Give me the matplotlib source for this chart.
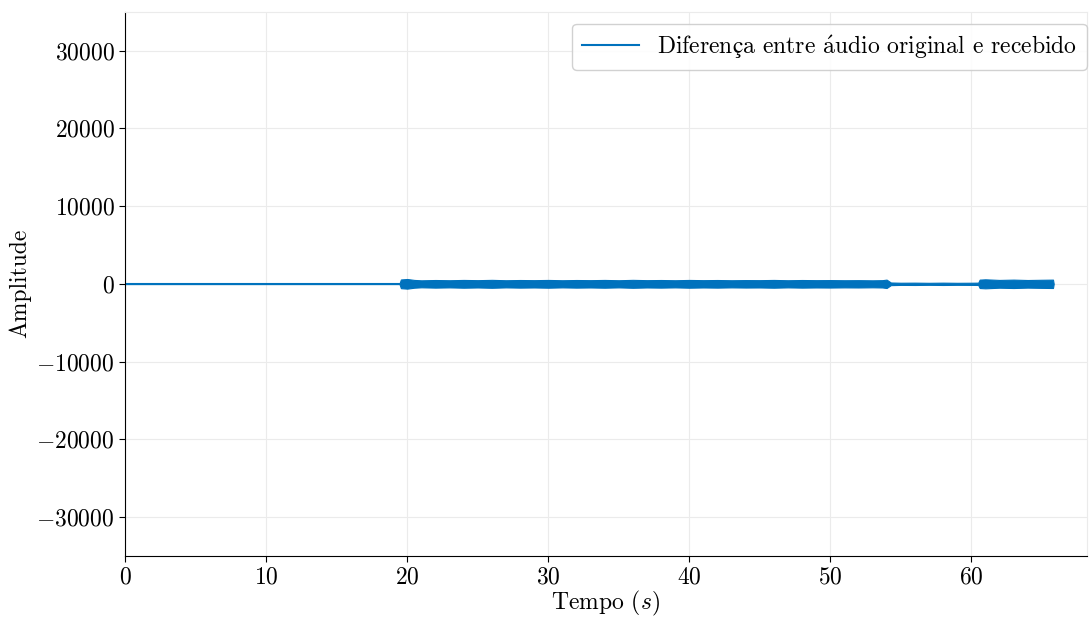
import matplotlib
matplotlib.use("Agg")
import matplotlib.pyplot as plt

# Envelope of the difference signal (time in s, amplitude)
env_t = [0.0, 19.45, 19.55, 20.0, 20.5, 21.0, 22.0, 23.0, 24.0, 25.0, 26.0, 27.0, 28.0,
         29.0, 30.0, 31.0, 32.0, 33.0, 34.0, 35.0, 36.0, 37.0, 38.0, 39.0, 40.0,
         41.0, 42.0, 43.0, 44.0, 45.0, 46.0, 47.0, 48.0, 49.0, 50.0, 51.0, 52.0,
         53.0, 53.7, 54.0, 54.3, 55.0, 56.0, 57.0, 58.0, 59.0, 60.0, 60.5, 60.6,
         61.0, 62.0, 63.0, 64.0, 65.0, 65.8, 65.85]
env_a = [30, 30, 560, 620, 500, 450, 490, 460, 500, 470, 510, 460, 490,
         470, 500, 460, 490, 470, 500, 460, 510, 470, 490, 460, 500,
         470, 490, 460, 480, 470, 500, 460, 490, 470, 480, 460, 470,
         450, 470, 540, 170, 140, 150, 130, 150, 130, 140, 150, 540,
         580, 500, 540, 490, 520, 540, 30]
env_lo = [-v for v in env_a]

x_ticks = [0, 10, 20, 30, 40, 50, 60]
y_ticks = [-30000, -20000, -10000, 0, 10000, 20000, 30000]
label = r"Diferen$\mathrm{ç}$a entre $\acute{\mathrm{a}}$udio original e recebido"

plt.rcParams['font.family'] = ['cmr10', 'DejaVu Serif']
plt.rcParams['mathtext.fontset'] = 'cm'
plt.rcParams['mathtext.fallback'] = 'stix'
plt.rcParams['axes.formatter.use_mathtext'] = True
plt.rcParams['axes.unicode_minus'] = True

color = '#0072BD'
fig = plt.figure(figsize=(10.89, 6.17), dpi=100)
ax = fig.add_axes([0.115, 0.099, 0.883, 0.882])

ax.fill_between(env_t, env_lo, env_a, color=color, linewidth=0.8, edgecolor=color)
ax.plot(env_t[:2], [0, 0], color=color, linewidth=1.5, label=label)

ax.set_xlim(0, 68.2)
ax.set_ylim(-35000, 35000)
ax.set_xticks(x_ticks)
ax.set_yticks(y_ticks)
ax.tick_params(labelsize=17, direction='out', length=4)
ax.grid(True, color='#ebebeb', linewidth=0.8)
ax.set_axisbelow(True)
for s in ['top', 'right']:
    ax.spines[s].set_color('#ebebeb')
    ax.spines[s].set_linewidth(0.8)
ax.set_xlabel(r'Tempo ($s$)', fontsize=17, labelpad=0.5)
ax.set_ylabel('Amplitude', fontsize=17, labelpad=4)
ax.legend(loc='upper right', bbox_to_anchor=(1.0, 0.978), borderaxespad=0,
          fontsize=17, fancybox=True, framealpha=0.9,
          edgecolor='#cccccc', handlelength=2.4)

fig.savefig('out.png', dpi=100)
